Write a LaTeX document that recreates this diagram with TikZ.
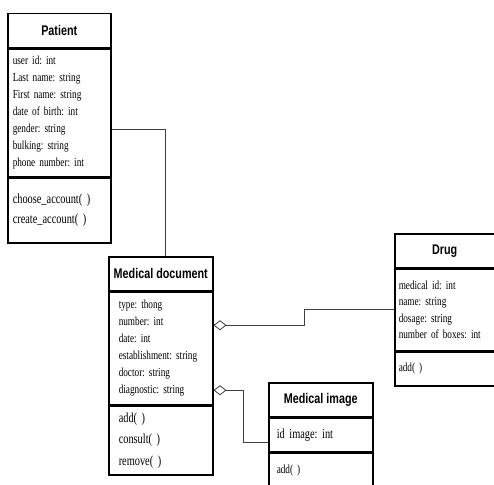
\documentclass[tikz,border=0pt]{standalone}
\usepackage{fontspec}
\usetikzlibrary{positioning,arrows.meta,shadows}
\newfontfamily\titlefont[FakeStretch=0.77]{Liberation Sans}
\newfontfamily\attrfont[FakeStretch=0.75,WordSpace=0.7]{Liberation Serif}
\frenchspacing

\tikzset{
  classbox/.style={draw, line width=1.5pt, fill=white,
    drop shadow={shadow xshift=1.5pt, shadow yshift=-1.5pt, fill=black!45, opacity=1}},
  umltitle/.style={classbox, anchor=north west, minimum height=34pt,
    font=\titlefont\bfseries\fontsize{14}{14}\selectfont},
  section/.style={classbox, anchor=north, align=left, inner xsep=5pt, inner ysep=0pt},
  attrs/.style={section, font=\attrfont\frenchspacing\fontsize{12.3}{#1}\selectfont},
  ops/.style={section, font=\attrfont\frenchspacing\fontsize{13.8}{#1}\selectfont},
  aggr/.style={draw=black!75, line width=0.8pt,
    {Diamond[open, length=13pt, width=10pt, line width=0.8pt]}-}
}

\begin{document}
\begin{tikzpicture}[x=1pt,y=-1pt]
  \clip (0,0) rectangle (494,484);
  \fill[white] (0,0) rectangle (494,484);

  % Patient
  \node[umltitle, minimum width=103pt] (patient) at (7,13) {Patient};
  \node[attrs=17pt, text width=93pt, minimum height=127pt] (patient-attr) at (patient.south)
    {user id: int\\Last name: string\\First name: string\\date of birth: int\\gender: string\\bulking: string\\phone number: int};
  \node[ops=20pt, text width=93pt, minimum height=65pt] (patient-ops) at (patient-attr.south)
    {choose\_account( )\\create\_account( )};

  % Medical document
  \node[umltitle, minimum width=104pt] (meddoc) at (108,256) {Medical document};
  \node[attrs=17pt, text width=84pt, inner xsep=10pt, minimum height=112pt] (meddoc-attr) at (meddoc.south)
    {type: thong\\number: int\\date: int\\establishment: string\\doctor: string\\diagnostic: string};
  \node[ops=21.5pt, text width=84pt, inner xsep=10pt, minimum height=69pt] (meddoc-ops) at (meddoc-attr.south)
    {add( )\\consult( )\\remove( )};

  % Drug
  \node[umltitle, minimum width=100pt] (drug) at (394,233) {Drug};
  \node[attrs=16.3pt, text width=92pt, inner xsep=4pt, minimum height=81pt] (drug-attr) at (drug.south)
    {medical id: int\\name: string\\dosage: string\\number of boxes: int};
  \node[ops=14pt, text width=92pt, inner xsep=4pt, minimum height=34pt,
    font=\attrfont\frenchspacing\fontsize{12.3}{14}\selectfont] (drug-ops) at (drug-attr.south) {add( )};

  % Medical image
  \node[umltitle, minimum width=104pt] (medimg) at (268,382) {Medical image};
  \node[ops=14pt, text width=88pt, inner xsep=8pt, minimum height=33pt] (medimg-attr) at (medimg.south)
    {id image: int};
  \node[ops=14pt, text width=88pt, inner xsep=8pt, minimum height=36pt,
    font=\attrfont\frenchspacing\fontsize{12.3}{14}\selectfont] (medimg-ops) at (medimg-attr.south) {add( )};

  % connectors
  \draw[draw=black!75, line width=0.8pt] ([yshift=-16.5pt]patient-attr.east) -| ([xshift=5pt]meddoc.north);
  \draw[aggr] ([yshift=23pt]meddoc-attr.east) -- ++(91,0) |- (drug-attr.west);
  \draw[aggr] ([yshift=-42pt]meddoc-attr.east) -- ++(30,0) |- ([yshift=-8pt]medimg-attr.west);
\end{tikzpicture}
\end{document}
